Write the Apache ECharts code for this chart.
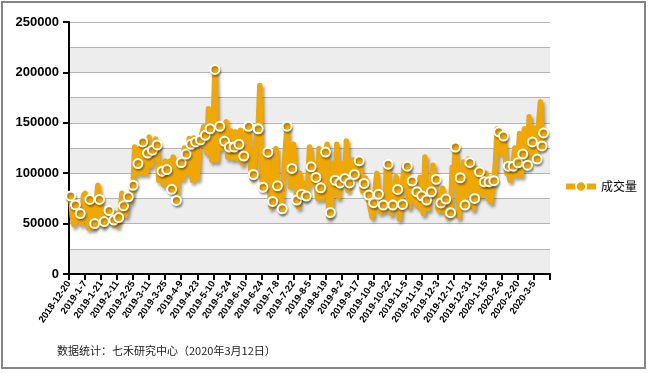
<!DOCTYPE html>
<html>
<head>
<meta charset="utf-8">
<script src="https://cdn.jsdelivr.net/npm/echarts@6/dist/echarts.min.js"></script>
<style>
html,body{margin:0;padding:0;background:#fff;}
#c{width:649px;height:373px;}
</style>
</head>
<body>
<div id="c"></div>
<script>
// Tick labels (one every 10 trading days)
const tickLabels = ['2018-12-20','2019-1-7','2019-1-21','2019-2-11','2019-2-25','2019-3-11','2019-3-25','2019-4-9','2019-4-23','2019-5-10','2019-5-24','2019-6-10','2019-6-24','2019-7-8','2019-7-22','2019-8-5','2019-8-19','2019-9-2','2019-9-17','2019-10-8','2019-10-22','2019-11-5','2019-11-19','2019-12-3','2019-12-17','2019-12-31','2020-1-15','2020-2-6','2020-2-20','2020-3-5'];
const seriesName = '成交量';
const footnote = '数据统计：七禾研究中心（2020年3月12日）';
// Daily volume (trading days from 2018-12-20)
const volume = [
72000,77500,58000,49000,68500,52000,55000,60000,50000,78000,
80000,62000,45600,74000,58000,46000,50000,70000,88000,74000,
55000,48000,52000,60000,54000,63000,55000,50000,53500,60000,
48000,56000,62000,80000,67600,58000,65000,76600,72000,80000,
88000,126000,100000,109500,124000,100000,131000,112000,100000,120000,
136000,108000,122800,115000,134000,128000,93000,108000,102000,88000,
112000,103600,90000,112000,84000,116000,95000,73000,92000,100000,
110600,95000,125000,119000,100000,134500,128700,93000,135000,131000,
95000,128000,133000,140000,146000,137600,120000,164000,144000,113000,
150000,203000,113000,135000,146500,125000,140000,131700,151000,116000,
126000,142000,115000,126000,141000,114600,128700,142700,110000,117000,
135000,142700,146500,110000,95000,98700,120000,140000,144000,187000,
100000,86000,123000,95000,120800,85000,66700,72000,99800,124600,
87500,75000,63000,64700,100000,125000,146700,120000,86500,104700,
128800,95000,73300,66700,100000,79000,90000,75000,77300,90000,
126000,106300,90000,110000,95800,75000,124600,85500,75000,100000,
121000,128800,56800,61000,80000,110000,93000,128800,76500,90400,
110000,100000,94800,132000,83000,90400,100000,113000,98800,105000,
95000,112300,100000,82000,89800,95000,80000,78300,65000,56800,
70700,85000,99800,79000,61700,75000,68400,63000,111000,109000,
80000,60000,68400,85000,96400,83900,55000,70000,69000,108000,
95000,107000,66700,80000,92200,93000,70000,81600,66700,96000,
77600,60000,116000,73300,65000,90000,81600,108000,95000,94000,
65000,63000,70500,85000,63000,74300,56800,70000,60800,106000,
100000,126000,98800,56800,95500,80000,111000,68400,90000,114000,
110700,85000,65000,75000,105000,90000,101400,78000,95000,91500,
100000,75000,91500,71600,85000,92500,110000,144000,141000,125000,
120000,136800,120000,100000,107000,93000,105000,107000,125000,98000,
110300,139400,98000,119000,144000,115000,108000,156000,120000,131000,
145000,113000,114000,150000,170800,127000,140000
];

const nCats = tickLabels.length * 10 + 1;
const categories = Array.from({length: nCats}, (_, i) => i % 10 === 0 ? (tickLabels[i / 10] || '') : String(i));
const lastIdx = volume.length - 1;

const chart = echarts.init(document.getElementById('c'), null, {renderer: 'canvas'});
const orange = '#F0A800';
chart.setOption({
  animation: false,
  backgroundColor: '#ffffff',
  grid: {left: 69, right: 99, top: 22, bottom: 99, containLabel: false},
  legend: {
    data: [seriesName],
    orient: 'vertical',
    left: 558,
    top: 'middle',
    itemWidth: 30,
    itemHeight: 13,
    itemGap: 6,
    lineStyle: {width: 6, color: orange},
    itemStyle: {color: orange, borderColor: '#fff', borderWidth: 2},
    textStyle: {fontSize: 12, color: '#000', fontFamily: '"Noto Sans CJK SC", sans-serif'}
  },
  xAxis: {
    type: 'category',
    data: categories,
    boundaryGap: false,
    axisLine: {lineStyle: {color: '#000', width: 2}},
    axisTick: {interval: 9, length: 6, lineStyle: {color: '#000', width: 2}},
    axisLabel: {interval: 9, rotate: 55, fontSize: 9.5, fontWeight: 'bold', color: '#000', fontFamily: 'Arial, "Liberation Sans", sans-serif', margin: 8},
    splitLine: {show: false}
  },
  yAxis: [{
    type: 'value', min: 0, max: 250000, interval: 50000,
    axisLine: {show: true, lineStyle: {color: '#000', width: 2}},
    axisTick: {show: true, length: 6, lineStyle: {color: '#000', width: 2}},
    axisLabel: {fontSize: 13, fontWeight: 'bold', color: '#000', fontFamily: 'Arial, "Liberation Sans", sans-serif', margin: 10, formatter: (v) => String(v)},
    splitLine: {show: false}
  }, {
    type: 'value', min: 0, max: 250000, interval: 25000, position: 'left',
    axisLine: {show: false}, axisTick: {show: false}, axisLabel: {show: false},
    splitLine: {show: true, lineStyle: {color: '#b4b4b4', width: 1}},
    splitArea: {show: true, areaStyle: {color: ['#ededed', '#ffffff']}}
  }],
  series: [{
    name: seriesName,
    type: 'line',
    yAxisIndex: 0,
    data: volume,
    showAllSymbol: true,
    symbol: 'circle',
    symbolSize: (v, p) => ((p.dataIndex % 3 === 1 && p.dataIndex !== 10) || p.dataIndex === lastIdx) ? 9 : 0,
    z: 5,
    lineStyle: {color: orange, width: 5.5, join: 'round', shadowColor: 'rgba(0,0,0,0.35)', shadowBlur: 3, shadowOffsetX: 2, shadowOffsetY: 3},
    itemStyle: {color: orange, borderColor: '#fff', borderWidth: 2, shadowColor: 'rgba(0,0,0,0.3)', shadowBlur: 2, shadowOffsetX: 1, shadowOffsetY: 2}
  }],
  graphic: [
    {type: 'rect', shape: {x: 2, y: 2, width: 643, height: 366}, style: {fill: 'none', stroke: '#858585', lineWidth: 2}, z: 100},
    {type: 'text', left: 57, top: 345, style: {text: footnote, fontSize: 11, fill: '#222', fontFamily: '"Noto Sans CJK SC", sans-serif'}}
  ]
});
</script>
</body>
</html>
